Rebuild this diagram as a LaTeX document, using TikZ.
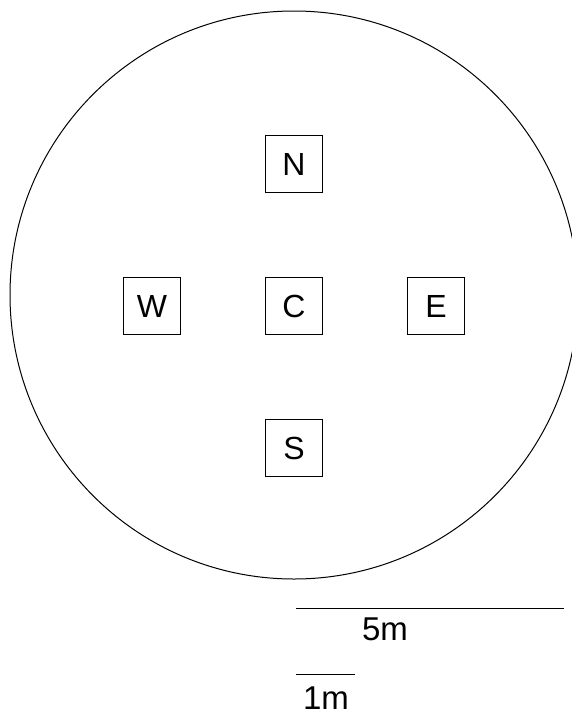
\documentclass[tikz,border=0pt]{standalone}
\usepackage{fontspec}
\setmainfont{Liberation Sans}
\usetikzlibrary{positioning}

\begin{document}
\begin{tikzpicture}[x=1pt, y=-1pt, line width=1pt, node distance=84pt,
    post/.style={draw, minimum size=57pt, inner sep=0pt, font=\fontsize{32}{36}\selectfont},
    scalelabel/.style={font=\fontsize{33}{36}\selectfont, inner sep=0pt}]
  \useasboundingbox (0,0) rectangle (572,713);
  \clip (0,0) rectangle (572,713);

  \draw (294,295) circle [radius=284];

  \node (centre) [post] at (294,306) {C};
  \node (north) [post, above=of centre] {N};
  \node (south) [post, below=of centre] {S};
  \node (west) [post, left=of centre] {W};
  \node (east) [post, right=of centre] {E};

  % scale bars
  \coordinate (bigl) at (296,608);
  \coordinate (bigr) at (564,608);
  \coordinate (smalll) at (296,674);
  \coordinate (smallr) at (355,674);
  \draw (bigl) -- (bigr);
  \draw (smalll) -- (smallr);
  \node (five) [scalelabel] at (385,629) {5m};
  \node (one) [scalelabel] at (326,698.5) {1m};
\end{tikzpicture}
\end{document}
